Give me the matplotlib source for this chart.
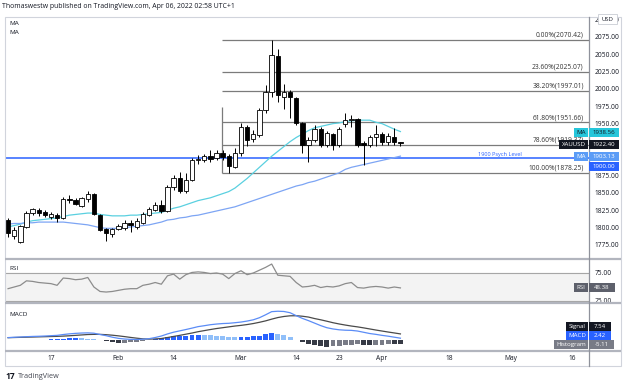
import matplotlib
matplotlib.use('Agg')
import matplotlib.pyplot as plt
from matplotlib.patches import Rectangle
import numpy as np

# ---------------- data ----------------
opens = [1811, 1788, 1779, 1801, 1821, 1825, 1822, 1815, 1818, 1814,
         1840.5, 1840, 1831, 1841, 1848, 1818, 1798, 1791, 1798, 1799,
         1806, 1801, 1807, 1818, 1826, 1833, 1824, 1859, 1872, 1853,
         1869, 1897, 1898, 1903, 1900, 1908, 1903, 1888, 1908, 1945,
         1928, 1934, 1970, 1996, 2048, 1989, 1996, 1987, 1951, 1919,
         1926, 1942, 1919, 1935, 1919, 1949, 1955, 1956, 1922, 1919,
         1931, 1935, 1924, 1931, 1923.5]
highs = [1814, 1801, 1804, 1824, 1829, 1828, 1825, 1822, 1821, 1844,
         1847, 1843, 1844, 1853, 1850, 1820, 1800, 1800, 1805, 1811,
         1811, 1814, 1823, 1830, 1837, 1840, 1862, 1876, 1880, 1879,
         1900, 1905, 1906, 1912, 1912, 1912, 1906, 1915, 1951, 1948,
         1941, 1973, 2006, 2070.42, 2058, 2007, 1999, 1988, 1952, 1931,
         1948, 1945, 1939, 1937, 1945, 1965, 1962, 1958, 1925, 1934,
         1948, 1938, 1937, 1944, 1924]
lows = [1787, 1784, 1778, 1800, 1818, 1817, 1815, 1812, 1808, 1812,
        1836, 1833, 1830, 1837, 1818, 1795, 1781, 1787, 1797, 1797,
        1794, 1798, 1805, 1817, 1824, 1821, 1823, 1854, 1850, 1850,
        1867, 1892, 1895, 1895, 1898, 1898, 1878.25, 1886, 1903, 1918,
        1924, 1931, 1965, 1988, 1981, 1971, 1958, 1948, 1908, 1895,
        1923, 1916, 1916, 1912, 1916, 1945, 1945, 1916, 1890, 1916,
        1918, 1919, 1919, 1919, 1918]
closes = [1792, 1796, 1802, 1821, 1827, 1821, 1818, 1820, 1814, 1841,
          1840, 1834, 1843, 1848, 1820, 1797, 1792, 1798, 1802, 1806,
          1804, 1809, 1820, 1827, 1833, 1824, 1859, 1872, 1853, 1869,
          1898, 1899, 1903, 1899, 1908, 1902, 1889, 1908, 1945, 1926,
          1935, 1970, 1996, 2049, 1991, 1996, 1989, 1951, 1919, 1926,
          1942, 1919, 1936, 1919, 1942, 1955, 1956, 1919, 1919, 1931,
          1935, 1924, 1932, 1924, 1922.40]

ma_fast = [1801, 1803, 1805, 1808, 1810, 1811, 1812, 1813, 1814, 1816,
           1818, 1819, 1820, 1821, 1821, 1819, 1818, 1817, 1817, 1817,
           1818, 1818, 1819, 1820, 1821, 1822, 1825, 1828, 1830, 1833,
           1836, 1839, 1841, 1843, 1846, 1849, 1852, 1857, 1864, 1871,
           1879, 1887, 1895, 1903, 1910, 1917, 1924, 1930, 1935, 1940,
           1944, 1946, 1948, 1950, 1951, 1953, 1954, 1955, 1955, 1955,
           1952, 1950, 1946, 1942, 1938.56]
ma_slow = [1805, 1806, 1806, 1807, 1807, 1808, 1808, 1808, 1808, 1808,
           1807, 1806, 1805, 1804, 1802, 1800, 1799, 1799, 1799, 1800,
           1801, 1802, 1803, 1804, 1806, 1808, 1811, 1812, 1814, 1815,
           1817, 1818, 1820, 1822, 1824, 1826, 1828, 1830, 1833, 1836,
           1839, 1842, 1845, 1848, 1851, 1854, 1857, 1860, 1862, 1865,
           1867, 1870, 1873, 1876, 1879, 1884, 1887, 1889, 1891, 1893,
           1895, 1897, 1899, 1901, 1903.13]

rsi = [47, 50, 53, 61, 60, 58, 57, 56, 53, 66,
       65, 63, 64, 67, 50, 42, 41, 42, 44, 46,
       47, 47, 53, 55, 58, 55, 70, 73, 64, 72,
       76, 77, 76, 74, 75, 73, 65, 74, 79, 72,
       75, 80, 85, 91, 71, 70, 69, 58, 50, 51,
       53, 49, 51, 50, 52, 56, 58, 49, 48, 50,
       51, 50, 48, 50, 48.38]

macd = [3.1, 3.5, 3.8, 4.2, 4.5, 4.7, 5.0, 5.4, 5.8, 6.8,
        7.6, 8.2, 8.6, 8.8, 8.4, 6.8, 5.4, 3.6, 2.2, 1.4,
        1.0, 0.8, 1.2, 1.8, 3.2, 5.0, 7.5, 9.6, 11.2, 12.8,
        14.5, 16.3, 17.4, 18.6, 19.4, 20.0, 20.3, 21.0, 21.8, 23.0,
        24.5, 27.0, 30.5, 34.3, 34.8, 34.5, 33.0, 29.5, 26.2, 23.5,
        20.5, 17.5, 15.0, 13.5, 12.5, 12.0, 11.8, 11.0, 9.5, 8.0,
        7.0, 5.8, 4.8, 3.6, 2.42]
signal = [3.0, 3.2, 3.4, 3.6, 3.8, 4.0, 4.2, 4.4, 4.6, 4.9,
          5.3, 5.8, 6.3, 6.8, 7.0, 7.0, 6.6, 6.0, 5.2, 4.3,
          3.3, 2.4, 1.6, 1.3, 1.5, 2.0, 3.2, 4.5, 5.8, 7.2,
          8.6, 10.2, 11.5, 12.8, 14.0, 15.0, 16.0, 17.0, 17.8, 18.8,
          20.0, 21.5, 23.2, 25.3, 27.2, 28.5, 29.3, 29.4, 28.8, 27.8,
          26.0, 24.5, 22.8, 21.0, 19.5, 18.2, 17.0, 16.0, 14.8, 13.5,
          12.2, 11.0, 9.8, 8.7, 7.54]
hist = [0.1, 0.3, 0.4, 0.6, 0.7, 0.7, 0.8, 1.0, 1.2, 1.9,
        2.3, 2.4, 2.3, 2.0, 1.4, -0.2, -1.2, -2.4, -3.0, -2.9,
        -2.3, -1.6, -0.4, 0.5, 1.7, 3.0, 4.3, 5.1, 5.4, 5.6,
        5.9, 6.1, 5.9, 5.8, 5.4, 5.0, 4.3, 4.0, 4.0, 4.2,
        4.5, 5.5, 7.3, 9.0, 7.6, 6.0, 3.7, 0.1, -2.6, -4.3,
        -5.5, -7.0, -7.8, -7.5, -7.0, -6.2, -5.2, -5.0, -5.3, -5.5,
        -5.2, -5.2, -5.0, -5.1, -5.11]

fib_labels = ['0.00%', '23.60%', '38.20%', '61.80%', '78.60%', '100.00%']
fib_prices = [2070.42, 2025.07, 1997.01, 1951.66, 1919.37, 1878.25]
fib_start = 34.85
fib_vert_top = 1974
psych_level = 1900
psych_label = '1900 Psych Level'

price_ticks = [1775, 1800, 1825, 1850, 1875, 1950, 1975, 2000, 2025, 2050, 2075, 2100]
date_ticks = [7, 18, 27, 38, 47, 54, 61, 72, 82, 92]
date_labels = ['17', 'Feb', '14', 'Mar', '14', '23', 'Apr', '18', 'May', '16']

last_close = 1922.40
rsi_last = 48.38
macd_last = 2.42
signal_last = 7.54
hist_last = -5.11

# ---------------- figure ----------------
W, H, DPI = 624, 386, 100
plt.rcParams['font.family'] = ['Open Sans', 'DejaVu Sans']
fig = plt.figure(figsize=(W / DPI, H / DPI), dpi=DPI)
fig.patch.set_facecolor('white')

def rect(x0, y0, x1, y1):
    return [x0 / W, 1 - y1 / H, (x1 - x0) / W, (y1 - y0) / H]

XL = (-0.5, 94.76)
TXT = '#131722'
FS = 4.8
idx = np.arange(len(opens))
o = np.array(opens); c = np.array(closes)

def clean(a):
    for s in a.spines.values():
        s.set_visible(False)
    a.set_xlim(*XL)
    a.set_xticks([])
    a.patch.set_alpha(0)

# main pane
ax = fig.add_axes(rect(5, 17, 589, 258))
clean(ax)
ax.set_ylim(1756.2, 2103.8)
ax.yaxis.tick_right()
ax.set_yticks(price_ticks)
ax.set_yticklabels([f'{p:.2f}' for p in price_ticks])
ax.tick_params(axis='y', length=0, pad=4, labelsize=FS, colors=TXT)

ax.hlines(fib_prices, fib_start, XL[1], color='#7b7b7b', lw=0.9, zorder=2)
ax.vlines(fib_start, fib_prices[-1], fib_vert_top, color='#7b7b7b', lw=0.9, zorder=2)
for lab, p in zip(fib_labels, fib_prices):
    ax.annotate(f'{lab}({p:.2f})', (93.9, p), xytext=(0, 1.0), textcoords='offset points',
                ha='right', va='bottom', fontsize=FS, color='#333333', zorder=3)

ax.axhline(psych_level, color='#2962ff', lw=1.1, zorder=2)
ax.annotate(psych_label, (80.2, psych_level), xytext=(0, 1.2), textcoords='offset points',
            ha='center', va='bottom', fontsize=4.1, color='#2962ff')

ax.plot(idx, ma_fast, color='#5ad0e0', lw=0.9, zorder=3)
ax.plot(idx, ma_slow, color='#7da5f4', lw=0.9, zorder=3)

faces = ['black' if cc < oo else 'white' for oo, cc in zip(o, c)]
ax.vlines(idx, lows, highs, color='black', lw=0.7, zorder=4)
ax.bar(idx, np.maximum(np.abs(c - o), 0.9), bottom=np.minimum(o, c), width=0.72,
       color=faces, edgecolor='black', lw=0.6, zorder=5)

# RSI pane
ax2 = fig.add_axes(rect(5, 259, 589, 302))
clean(ax2)
ax2.set_ylim(23.2, 100)
ax2.axhspan(25, 75, color='#f3f3f3', zorder=0)
ax2.axhline(75, color='#a6a6a6', lw=0.8)
ax2.axhline(25, color='#a6a6a6', lw=0.8)
ax2.plot(idx, rsi, color='#8c8c8c', lw=0.9)
ax2.yaxis.tick_right()
ax2.set_yticks([75, 25])
ax2.set_yticklabels(['75.00', '25.00'])
ax2.tick_params(axis='y', length=0, pad=4, labelsize=FS, colors=TXT)

# MACD pane
ax3 = fig.add_axes(rect(5, 303, 589, 350))
clean(ax3)
ax3.set_ylim(-11.8, 44.7)
ax3.set_yticks([])
hcol = []
for k, h in enumerate(hist):
    prev = hist[k - 1] if k > 0 else h
    if h >= 0:
        hcol.append('#2962ff' if h >= prev else '#90bff9')
    else:
        hcol.append('#363a45' if h < prev else '#787b86')
ax3.bar(idx, hist, width=0.8, color=hcol, zorder=2)
ax3.plot(idx, signal, color='#4a4a4a', lw=0.9, zorder=3)
ax3.plot(idx, macd, color='#5b8cf6', lw=0.9, zorder=3)

# date axis
ax4 = fig.add_axes(rect(5, 351, 589, 366))
clean(ax4)
ax4.set_ylim(0, 1)
ax4.set_yticks([])
for p, l in zip(date_ticks, date_labels):
    ax4.text(p, 0.5, l, ha='center', va='center', fontsize=FS, color=TXT)

# overlay
ov = fig.add_axes([0, 0, 1, 1])
ov.set_xlim(0, W); ov.set_ylim(H, 0); ov.axis('off'); ov.patch.set_alpha(0)

def ypix(a, v):
    return H - a.transData.transform((0, v))[1]

# frame & separators
ov.add_patch(Rectangle((5, 17), 616, 349, fill=False, ec='#d1d4dc', lw=0.8))
for yy in (258.5, 302.5, 350.5):
    ov.plot([5, 621], [yy, yy], color='#b2b5be', lw=1.6, solid_capstyle='butt')
ov.plot([589, 589], [17, 366], color='#8f929b', lw=0.9)

def tag(x0, x1, yc, text, bg, fg, h=9, fs=4.4, bold=False):
    ov.add_patch(Rectangle((x0, yc - h / 2), x1 - x0, h, color=bg, lw=0, zorder=10))
    ov.text((x0 + x1) / 2, yc, text, ha='center', va='center', fontsize=fs, color=fg,
            zorder=11, fontweight='bold' if bold else 'normal')

# price tags
y_maf = ypix(ax, ma_fast[-1]) + 1
tag(574, 588, y_maf, 'MA', '#26c6da', TXT)
tag(589, 619, y_maf, f'{ma_fast[-1]:.2f}', '#26c6da', TXT)
y_cl = ypix(ax, last_close) + 1.5
tag(559, 588, y_cl, 'XAUUSD', '#131722', 'white')
tag(589, 619, y_cl, f'{last_close:.2f}', '#131722', 'white')
y_mas = ypix(ax, ma_slow[-1]) + 0.5
tag(574, 588, y_mas, 'MA', '#5b9cf6', 'white')
tag(589, 619, y_mas, f'{ma_slow[-1]:.2f}', '#5b9cf6', 'white')
tag(589, 619, y_mas + 9.5, f'{psych_level:.2f}', '#2962ff', 'white')

# USD box
ov.add_patch(Rectangle((598, 14), 19, 10, fc='white', ec='#c9ccd3', lw=0.6, zorder=10))
ov.text(607.5, 19.2, 'USD', ha='center', va='center', fontsize=4.2, color=TXT, zorder=11)

# RSI tag
y_r = ypix(ax2, rsi_last)
tag(574, 588, y_r, 'RSI', '#5d606b', 'white')
tag(589, 615, y_r, f'{rsi_last:.2f}', '#5d606b', 'white')

# MACD tags (stacked)
y_h = ypix(ax3, hist_last)
tag(554, 588, y_h, 'Histogram', '#787b86', 'white')
tag(589, 614, y_h, f'{hist_last:.2f}', '#787b86', 'white')
tag(566, 588, y_h - 9, 'MACD', '#2962ff', 'white')
tag(589, 611, y_h - 9, f'{macd_last:.2f}', '#2962ff', 'white')
tag(566, 588, y_h - 18, 'Signal', '#131722', 'white')
tag(589, 611, y_h - 18, f'{signal_last:.2f}', '#131722', 'white')

# texts
ov.text(2, 6, 'Thomaswestw published on TradingView.com, Apr 06, 2022 02:58 UTC+1',
        ha='left', va='center', fontsize=4.95, color=TXT)
ov.text(9, 23.5, 'MA', ha='left', va='center', fontsize=4.6, color=TXT)
ov.text(9, 33, 'MA', ha='left', va='center', fontsize=4.6, color=TXT)
ov.text(9, 268, 'RSI', ha='left', va='center', fontsize=4.6, color=TXT)
ov.text(9, 314, 'MACD', ha='left', va='center', fontsize=4.6, color=TXT)
ov.text(5, 376.5, '17', ha='left', va='center', fontsize=6, fontweight='bold', color='#131722')
ov.text(18, 376.5, 'TradingView', ha='left', va='center', fontsize=5.2, color='#434651')

fig.savefig('out.png', dpi=DPI, facecolor='white')
